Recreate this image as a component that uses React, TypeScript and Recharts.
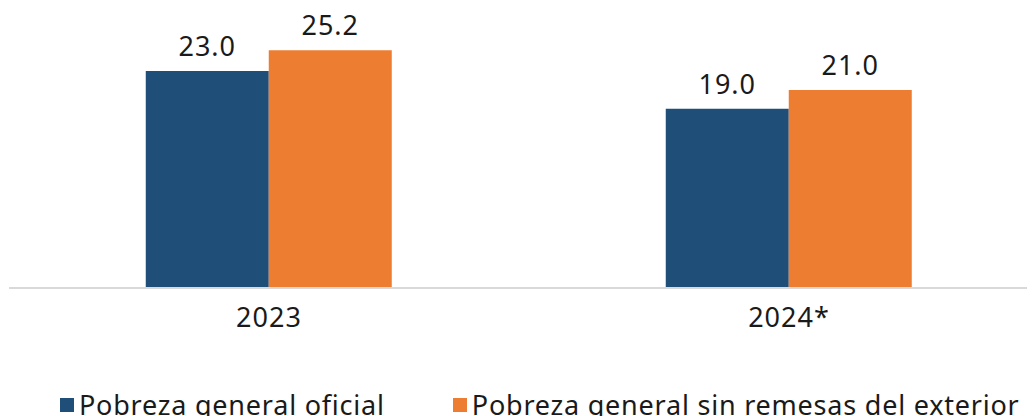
import { BarChart, Bar, XAxis, YAxis, LabelList, Legend } from 'recharts';

// Pobreza general: oficial vs sin remesas
const years = ['2023', '2024*'];
const oficial = [23.0, 19.0];
const sinRemesas = [25.2, 21.0];

const data = years.map((year, i) => ({
    year,
    oficial: oficial[i],
    sinRemesas: sinRemesas[i],
}));

const FONT = '"Noto Sans", sans-serif';
const TEXT = '#1a1a1a';
const labelStyle = { fontSize: 27, fill: TEXT, fontFamily: FONT, letterSpacing: 1 };

const renderLegend = (props: any) => {
    const { payload } = props;
    return (
        <div style={{ display: 'flex', gap: 68, fontFamily: FONT, fontSize: 27, color: TEXT, letterSpacing: 0.78 }}>
            {payload.map((entry: any) => (
                <div key={entry.value} style={{ display: 'flex', alignItems: 'center', whiteSpace: 'nowrap' }}>
                    <span style={{ width: 14, height: 14, background: entry.color, marginRight: 5, display: 'inline-block' }} />
                    <span>{entry.value}</span>
                </div>
            ))}
        </div>
    );
};

export default function App() {
    return (
        <div style={{ margin: '-8px 0 0 -8px', width: 1035, height: 416, overflow: 'hidden' }}>
            <BarChart
                width={1049}
                height={440}
                data={data}
                margin={{ top: 5, right: 0, left: 9, bottom: 122 }}
                barGap={0}
                barCategoryGap="26.3%"
            >
                <XAxis
                    dataKey="year"
                    tickLine={false}
                    axisLine={{ stroke: '#d9d9d9', strokeWidth: 2 }}
                    tick={labelStyle}
                    tickMargin={14}
                    interval={0}
                />
                <YAxis hide domain={[0, 30]} />
                <Legend
                    content={renderLegend}
                    verticalAlign="middle"
                    align="center"
                    wrapperStyle={{ position: 'absolute', top: 386, left: 60, width: 1000 }}
                />
                <Bar dataKey="oficial" name="Pobreza general oficial" fill="#1f4e79" isAnimationActive={false}>
                    <LabelList dataKey="oficial" position="top" offset={15} formatter={(v: any) => Number(v).toFixed(1)} style={labelStyle} />
                </Bar>
                <Bar dataKey="sinRemesas" name="Pobreza general sin remesas del exterior" fill="#ed7d31" isAnimationActive={false}>
                    <LabelList dataKey="sinRemesas" position="top" offset={15} formatter={(v: any) => Number(v).toFixed(1)} style={labelStyle} />
                </Bar>
            </BarChart>
        </div>
    );
}
